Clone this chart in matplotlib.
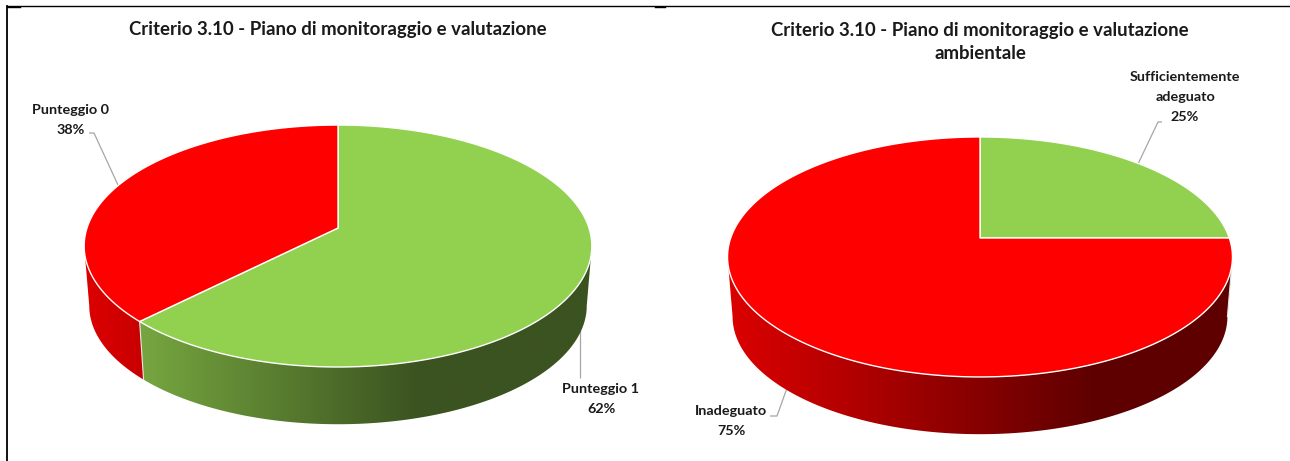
from __future__ import annotations

import numpy as np
import matplotlib
matplotlib.use("Agg")
import matplotlib.pyplot as plt
from matplotlib.colors import LinearSegmentedColormap
from matplotlib.patches import Polygon

plt.rcParams["font.family"] = ["Lato", "DejaVu Sans"]

# slices run clockwise from 12 o'clock
left_title = "Criterio 3.10 - Piano di monitoraggio e valutazione"
left_categories = ["Punteggio 1", "Punteggio 0"]
left_values = [62.5, 37.5]
left_labels = ["62%", "38%"]

right_title = "Criterio 3.10 - Piano di monitoraggio e valutazione\nambientale"
right_categories = ["Sufficientemente\nadeguato", "Inadeguato"]
right_values = [25, 75]
right_labels = ["25%", "75%"]

GREEN = "#92D050"
RED = "#FF0000"
SIDE_CMAPS = {
    GREEN: LinearSegmentedColormap.from_list(
        "green_side", [(0, "#82B746"), (0.66, "#3B5320"), (1, "#3B5320")]
    ),
    RED: LinearSegmentedColormap.from_list(
        "red_side", [(0, "#DC0000"), (0.73, "#5E0000"), (1, "#5E0000")]
    ),
}
TEXT_COLOR = "#1A1A1A"
LEADER_COLOR = "#A6A6A6"


def project(theta, geom, lower=False):
    # perspective view of the unit disc, theta clockwise from the top
    cx, cy, rx, ry, k = geom
    u, v = np.sin(theta), -np.cos(theta)
    w = 1 - k * v
    x, y = rx * u / w, ry * v / w
    if lower:
        return cx + 0.98 * x, cy + 60 + 0.98 * y
    return cx + x, cy + y


def draw_pie(ax, values, colors, geom):
    cx, cy, rx, ry, k = geom
    half_width = rx / np.sqrt(1 - k**2)
    left = cx - half_width
    ramp = np.linspace(0, 1, 256)[None, :]
    vis_start = np.arccos(-k)
    vis_end = 2 * np.pi - vis_start
    edges = np.concatenate([[0], np.cumsum(values)]) / np.sum(values) * 2 * np.pi

    # walls first, the top face then hides their upper rim
    for a, b, color in zip(edges[:-1], edges[1:], colors):
        lo, hi = max(a, vis_start), min(b, vis_end)
        if hi <= lo:
            continue
        t = np.linspace(lo, hi, 200)
        xt, yt = project(t, geom)
        xb, yb = project(t, geom, lower=True)
        pts = np.column_stack([np.r_[xt, xb[::-1]], np.r_[yt, yb[::-1]]])
        patch = Polygon(pts, closed=True, fc="none", ec="none", zorder=2)
        ax.add_patch(patch)
        im = ax.imshow(
            ramp,
            cmap=SIDE_CMAPS[color],
            vmin=0,
            vmax=1,
            extent=(left, left + 2 * half_width, cy + 220, cy - 120),
            aspect="auto",
            zorder=2,
            interpolation="bilinear",
        )
        im.set_clip_path(patch)
        if a > 0:
            ax.plot([xt[0], xb[0]], [yt[0], yb[0]], color="#E6E6E6", lw=0.8, zorder=2.5)

    for a, b, color in zip(edges[:-1], edges[1:], colors):
        t = np.linspace(a, b, 300)
        xt, yt = project(t, geom)
        pts = np.column_stack([np.r_[cx, xt], np.r_[cy, yt]])
        ax.add_patch(Polygon(pts, closed=True, fc=color, ec="white", lw=1.0, zorder=3))


def add_leader(ax, xs, ys):
    ax.plot(xs, ys, color=LEADER_COLOR, lw=0.9, zorder=1, solid_capstyle="butt")


def add_label(ax, x, y, text, size=10.4, spacing=1.8):
    ax.text(x, y, text, ha="center", va="center", fontsize=size, fontweight="bold",
            color=TEXT_COLOR, linespacing=spacing, zorder=5)


def main() -> None:
    fig = plt.figure(figsize=(12.9, 4.61), dpi=100)
    ax = fig.add_axes([0, 0, 1, 1])
    ax.axis("off")

    draw_pie(ax, left_values, [GREEN, RED], (338, 228, 251, 118.3, 0.149))
    draw_pie(ax, right_values, [GREEN, RED], (980, 238, 249.3, 117, 0.158))

    add_label(ax, 338, 30, left_title, size=13.4)
    add_label(ax, 980, 42, right_title, size=13.4, spacing=1.4)

    add_label(ax, 71, 119.5, f"{left_categories[1]}\n{left_labels[1]}")
    add_label(ax, 601, 398.5, f"{left_categories[0]}\n{left_labels[0]}")
    add_label(ax, 1185, 96.5, f"{right_categories[0]}\n{right_labels[0]}")
    add_label(ax, 731, 420.5, f"{right_categories[1]}\n{right_labels[1]}")

    add_leader(ax, [89, 94, 118], [133, 133, 185])
    add_leader(ax, [580, 580], [330, 378])
    add_leader(ax, [1162, 1158, 1138], [122, 122, 164])
    add_leader(ax, [770, 777, 787], [416, 416, 388])

    # frame of the pasted screenshot
    ax.plot([7, 7], [6, 461], color="black", lw=1.3, zorder=6)
    ax.plot([7, 1290], [6, 6], color="black", lw=1.0, zorder=6)
    ax.plot([7, 20], [7, 7], color="black", lw=1.0, zorder=6)
    ax.plot([655, 665], [7.3, 7.3], color="black", lw=1.0, zorder=6)

    ax.set_xlim(0, 1290)
    ax.set_ylim(461, 0)
    fig.savefig("out.png", dpi=100, facecolor="white")
    plt.close(fig)


if __name__ == "__main__":
    main()
